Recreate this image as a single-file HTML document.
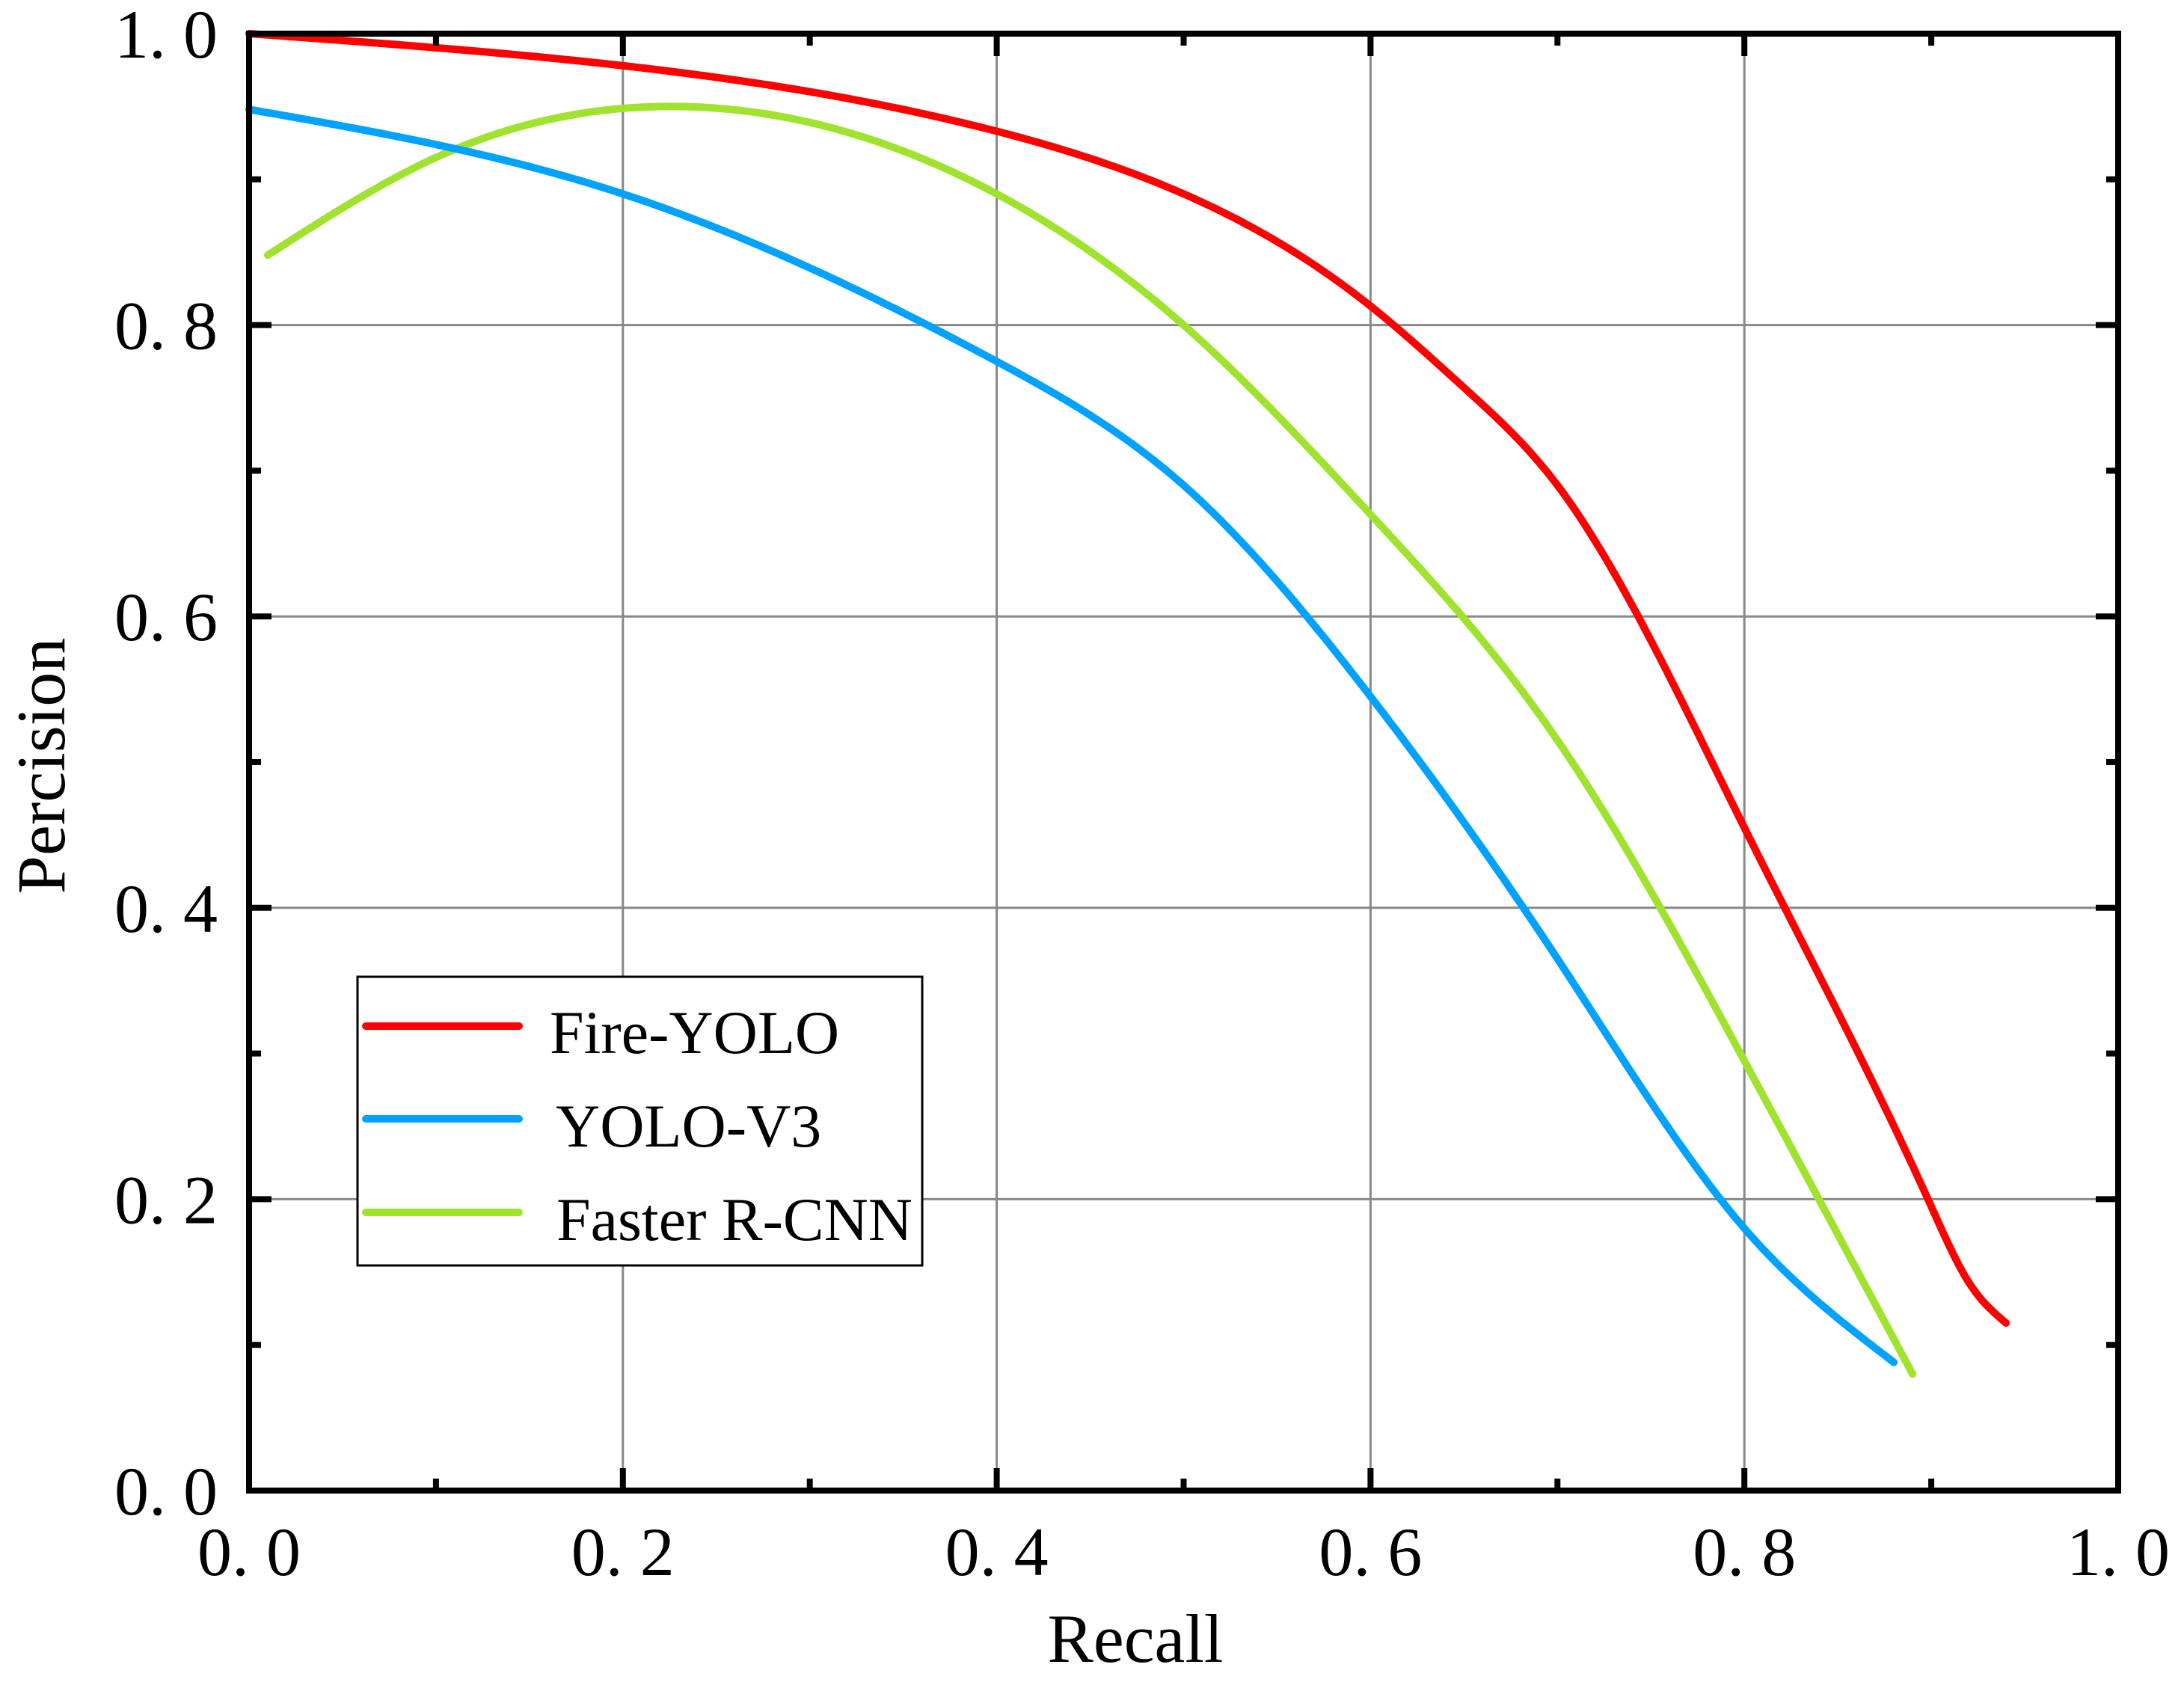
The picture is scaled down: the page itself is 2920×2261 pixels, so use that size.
<!DOCTYPE html>
<html><head><meta charset="utf-8"><style>
html,body{margin:0;padding:0;background:#fff;}
svg{display:block;font-family:"Liberation Serif",serif;}
</style></head><body>
<svg id="chart" width="2920" height="2261" viewBox="0 0 2920 2261" xmlns="http://www.w3.org/2000/svg">
<g id="grid"></g>
<g id="series"></g>
<g id="axes"></g>
<text x="1518" y="2222" font-size="92" text-anchor="middle">Recall</text>
<text transform="translate(86,1024) rotate(-90)" font-size="92" text-anchor="middle">Percision</text>
<g>
<rect x="478" y="1306" width="755" height="386" fill="#fff" stroke="#000" stroke-width="3"/>
<line x1="489" y1="1372" x2="694" y2="1372" stroke="#ff0000" stroke-width="10" stroke-linecap="round"/>
<text x="735" y="1408" font-size="82">Fire-YOLO</text>
<line x1="489" y1="1496" x2="694" y2="1496" stroke="#00a2ff" stroke-width="10" stroke-linecap="round"/>
<text x="743" y="1533" font-size="82">YOLO-V3</text>
<line x1="489" y1="1621" x2="694" y2="1621" stroke="#9fe32f" stroke-width="10" stroke-linecap="round"/>
<text x="744" y="1658" font-size="82">Faster R-CNN</text>
</g>
</svg>
<script>
const xTicks=[0,0.2,0.4,0.6,0.8,1.0];
const yTicks=[0,0.2,0.4,0.6,0.8,1.0];
const tickLabels=["0. 0","0. 2","0. 4","0. 6","0. 8","1. 0"];
const fireX=[0,0.2,0.4,0.5,0.6,0.65,0.7,0.8,0.9,0.92,0.94];
const fireY=[1.0,0.978,0.933,0.89,0.813,0.757,0.69,0.455,0.195,0.143,0.115];
const yoloX=[0,0.2,0.4,0.5,0.6,0.7,0.8,0.88];
const yoloY=[0.948,0.89,0.775,0.69,0.545,0.365,0.18,0.088];
const frX=[0.01,0.1,0.23,0.4,0.5,0.6,0.7,0.8,0.89];
const frY=[0.848,0.915,0.95,0.89,0.80,0.67,0.515,0.295,0.08];
const X0=333,X1=2832,Y0=1993,Y1=45;
const sx=v=>X0+v*(X1-X0), sy=v=>Y0-v*(Y0-Y1);
const NS="http://www.w3.org/2000/svg";
function mk(tag,attrs,parent){const e=document.createElementNS(NS,tag);for(const k in attrs)e.setAttribute(k,attrs[k]);parent.appendChild(e);return e;}
const grid=document.getElementById('grid'),axes=document.getElementById('axes'),series=document.getElementById('series');
xTicks.forEach((t,i)=>{
 if(i>0&&i<xTicks.length-1){const l=mk('line',{x1:sx(t),x2:sx(t),y1:Y0,y2:Y1,stroke:'#888','stroke-width':3},grid);
 
 }
 const tx=mk('text',{x:sx(t),y:2106,'font-size':92,'text-anchor':'middle'},axes);tx.textContent=tickLabels[i];
 
 
});
yTicks.forEach((t,i)=>{
 if(i>0&&i<yTicks.length-1){const l=mk('line',{x1:X0,x2:X1,y1:sy(t),y2:sy(t),stroke:'#888','stroke-width':3},grid);
 
 }
 const tx=mk('text',{x:291,y:sy(t)+32,'font-size':92,'text-anchor':'end'},axes);tx.textContent=tickLabels[i];
 
 
});
for(let k=1;k<10;k++){const v=k/10,len=(k%2==0)?30:16;
 const a=mk('line',{x1:sx(v),x2:sx(v),y1:Y0,y2:Y0-len,stroke:'#000','stroke-width':8},axes);
 
 
 const b=mk('line',{x1:sx(v),x2:sx(v),y1:Y1,y2:Y1+len,stroke:'#000','stroke-width':8},axes);
 
 
 const c=mk('line',{x1:X0,x2:X0+len,y1:sy(v),y2:sy(v),stroke:'#000','stroke-width':8},axes);
 
 
 const d=mk('line',{x1:X1,x2:X1-len,y1:sy(v),y2:sy(v),stroke:'#000','stroke-width':8},axes);
 
 
}
const frame=mk('rect',{x:X0,y:Y1,width:X1-X0,height:Y0-Y1,fill:'none',stroke:'#000','stroke-width':8},axes);


function spline(xs,ys){const n=xs.length,h=[],al=[0],l=[1],mu=[0],z=[0],c=new Array(n).fill(0),b=[],d=[];
 for(let i=0;i<n-1;i++)h.push(xs[i+1]-xs[i]);
 for(let i=1;i<n-1;i++)al.push(3/h[i]*(ys[i+1]-ys[i])-3/h[i-1]*(ys[i]-ys[i-1]));
 for(let i=1;i<n-1;i++){l[i]=2*(xs[i+1]-xs[i-1])-h[i-1]*mu[i-1];mu[i]=h[i]/l[i];z[i]=(al[i]-h[i-1]*z[i-1])/l[i];}
 for(let j=n-2;j>=1;j--)c[j]=z[j]-mu[j]*c[j+1];
 for(let j=0;j<n-1;j++){b[j]=(ys[j+1]-ys[j])/h[j]-h[j]*(c[j+1]+2*c[j])/3;d[j]=(c[j+1]-c[j])/(3*h[j]);}
 return x=>{let j=0;while(j<n-2&&x>xs[j+1])j++;const t=x-xs[j];return ys[j]+b[j]*t+c[j]*t*t+d[j]*t*t*t;};}
function pathFor(xs,ys){const f=spline(xs,ys),N=300,a=xs[0],z=xs[xs.length-1];let d='';
 for(let i=0;i<=N;i++){const x=a+(z-a)*i/N;d+=(i?'L':'M')+sx(x).toFixed(1)+','+sy(f(x)).toFixed(1);}return d;}
const s1=mk('path',{d:pathFor(frX,frY),fill:'none',stroke:'#9fe32f','stroke-width':10,'stroke-linecap':'round','stroke-linejoin':'round'},series);


const s2=mk('path',{d:pathFor(yoloX,yoloY),fill:'none',stroke:'#00a2ff','stroke-width':10,'stroke-linecap':'round','stroke-linejoin':'round'},series);


const s3=mk('path',{d:pathFor(fireX,fireY),fill:'none',stroke:'#ff0000','stroke-width':10,'stroke-linecap':'round','stroke-linejoin':'round'},series);


</script>
</body></html>
